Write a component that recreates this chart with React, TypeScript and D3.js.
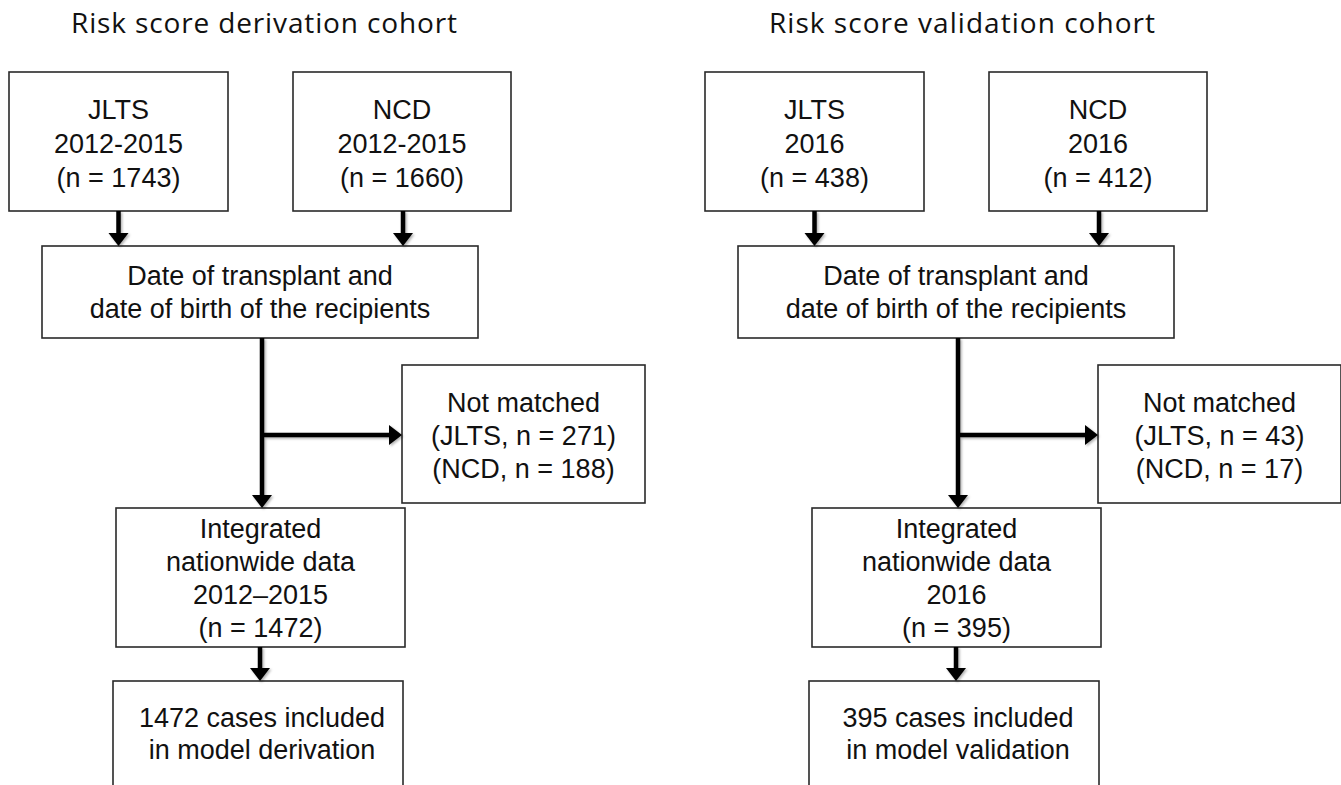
import React, { useEffect, useRef } from "react";
import * as d3 from "d3";

// cohort titles, one per panel
const panelTitles = ["Risk score derivation cohort", "Risk score validation cohort"];

// box contents, one entry per panel
const jltsLines = [
  ["JLTS", "2012-2015", "(n = 1743)"],
  ["JLTS", "2016", "(n = 438)"],
];
const ncdLines = [
  ["NCD", "2012-2015", "(n = 1660)"],
  ["NCD", "2016", "(n = 412)"],
];
const matchLines = [
  ["Date of transplant and", "date of birth of the recipients"],
  ["Date of transplant and", "date of birth of the recipients"],
];
const excludedLines = [
  ["Not matched", "(JLTS, n = 271)", "(NCD, n = 188)"],
  ["Not matched", "(JLTS, n = 43)", "(NCD, n = 17)"],
];
const integratedLines = [
  ["Integrated", "nationwide data", "2012\u20132015", "(n = 1472)"],
  ["Integrated", "nationwide data", "2016", "(n = 395)"],
];
const includedLines = [
  ["1472 cases included", "in model derivation"],
  ["395 cases included", "in model validation"],
];

const W = 1341;
const H = 785;

export default function App() {
  const ref = useRef<SVGSVGElement>(null);

  useEffect(() => {
    const svg = d3.select(ref.current);
    svg.selectAll("*").remove();

    const defs = svg.append("defs");
    const f = defs
      .append("filter")
      .attr("id", "shadow")
      .attr("x", "-20%")
      .attr("y", "-20%")
      .attr("width", "140%")
      .attr("height", "140%");
    f.append("feDropShadow")
      .attr("dx", 1.5)
      .attr("dy", 1.5)
      .attr("stdDeviation", 1.2)
      .attr("flood-color", "#000")
      .attr("flood-opacity", 0.3);

    // each panel gets its own horizontal band
    const panelX = d3.scaleBand<number>().domain([0, 1]).range([0, 1392]);

    // layout of one panel (left panel coordinates)
    const layout = {
      jlts: { x0: 9, x1: 228, y0: 72, y1: 211, base: 119, lh: 34 },
      ncd: { x0: 293, x1: 511, y0: 72, y1: 211, base: 119, lh: 34 },
      match: { x0: 42, x1: 478, y0: 246, y1: 338, base: 285, lh: 33 },
      excl: { x0: 402, x1: 645, y0: 365, y1: 503, base: 412, lh: 33 },
      integ: { x0: 116, x1: 405, y0: 508, y1: 647, base: 538, lh: 33 },
      fin: { x0: 113, x1: 403, y0: 681, y1: 820, base: 727, lh: 32 },
    };
    const spineX = 262;

    panelX.domain().forEach((i) => {
      const g = svg.append("g").attr("transform", `translate(${panelX(i)},0)`);

      g.append("text")
        .attr("x", 264 + i * 2)
        .attr("y", 33)
        .attr("text-anchor", "middle")
        .attr("font-family", "'Open Sans', sans-serif")
        .attr("font-size", 28)
        .attr("textLength", 386)
        .attr("lengthAdjust", "spacing")
        .attr("fill", "#111")
        .text(panelTitles[i]);

      const boxes: [keyof typeof layout, string[], number?][] = [
        ["jlts", jltsLines[i]],
        ["ncd", ncdLines[i]],
        ["match", matchLines[i]],
        ["excl", excludedLines[i]],
        ["integ", integratedLines[i]],
        ["fin", includedLines[i], spineX],
      ];

      boxes.forEach(([key, lines, cx]) => {
        const b = layout[key];
        g.append("rect")
          .attr("x", b.x0)
          .attr("y", b.y0)
          .attr("width", b.x1 - b.x0)
          .attr("height", b.y1 - b.y0)
          .attr("fill", "#fff")
          .attr("stroke", "#2a2a2a")
          .attr("stroke-width", 1.6);
        g.append("g")
          .selectAll("text")
          .data(lines)
          .join("text")
          .attr("x", cx ?? (b.x0 + b.x1) / 2)
          .attr("y", (_, j) => b.base + j * b.lh)
          .attr("text-anchor", "middle")
          .attr("font-family", "'Liberation Sans', Arial, sans-serif")
          .attr("font-size", 27)
          .attr("fill", "#111")
          .text((d) => d);
      });

      const arrows = g.append("g").attr("filter", "url(#shadow)");
      const head = (x: number, y: number, dir: "down" | "right") => {
        const p =
          dir === "down"
            ? `M${x - 10},${y - 13}L${x + 10},${y - 13}L${x},${y}Z`
            : `M${x - 13},${y - 10}L${x - 13},${y + 10}L${x},${y}Z`;
        arrows.append("path").attr("d", p).attr("fill", "#000");
      };
      const line = (x1: number, y1: number, x2: number, y2: number) =>
        arrows
          .append("line")
          .attr("x1", x1)
          .attr("y1", y1)
          .attr("x2", x2)
          .attr("y2", y2)
          .attr("stroke", "#000")
          .attr("stroke-width", 4.5);

      const jx = (layout.jlts.x0 + layout.jlts.x1) / 2;
      const nx = (layout.ncd.x0 + layout.ncd.x1) / 2 + 1;
      line(jx, layout.jlts.y1, jx, layout.match.y0 - 10);
      head(jx, layout.match.y0, "down");
      line(nx, layout.ncd.y1, nx, layout.match.y0 - 10);
      head(nx, layout.match.y0, "down");

      line(spineX, layout.match.y1, spineX, layout.integ.y0 - 10);
      head(spineX, layout.integ.y0, "down");
      line(spineX, 435, layout.excl.x0 - 10, 435);
      head(layout.excl.x0, 435, "right");

      line(260, layout.integ.y1, 260, layout.fin.y0 - 10);
      head(260, layout.fin.y0, "down");
    });
  }, []);

  return (
    <svg
      ref={ref}
      width={W}
      height={H}
      style={{ position: "absolute", left: 0, top: 0, background: "#fff" }}
    />
  );
}
